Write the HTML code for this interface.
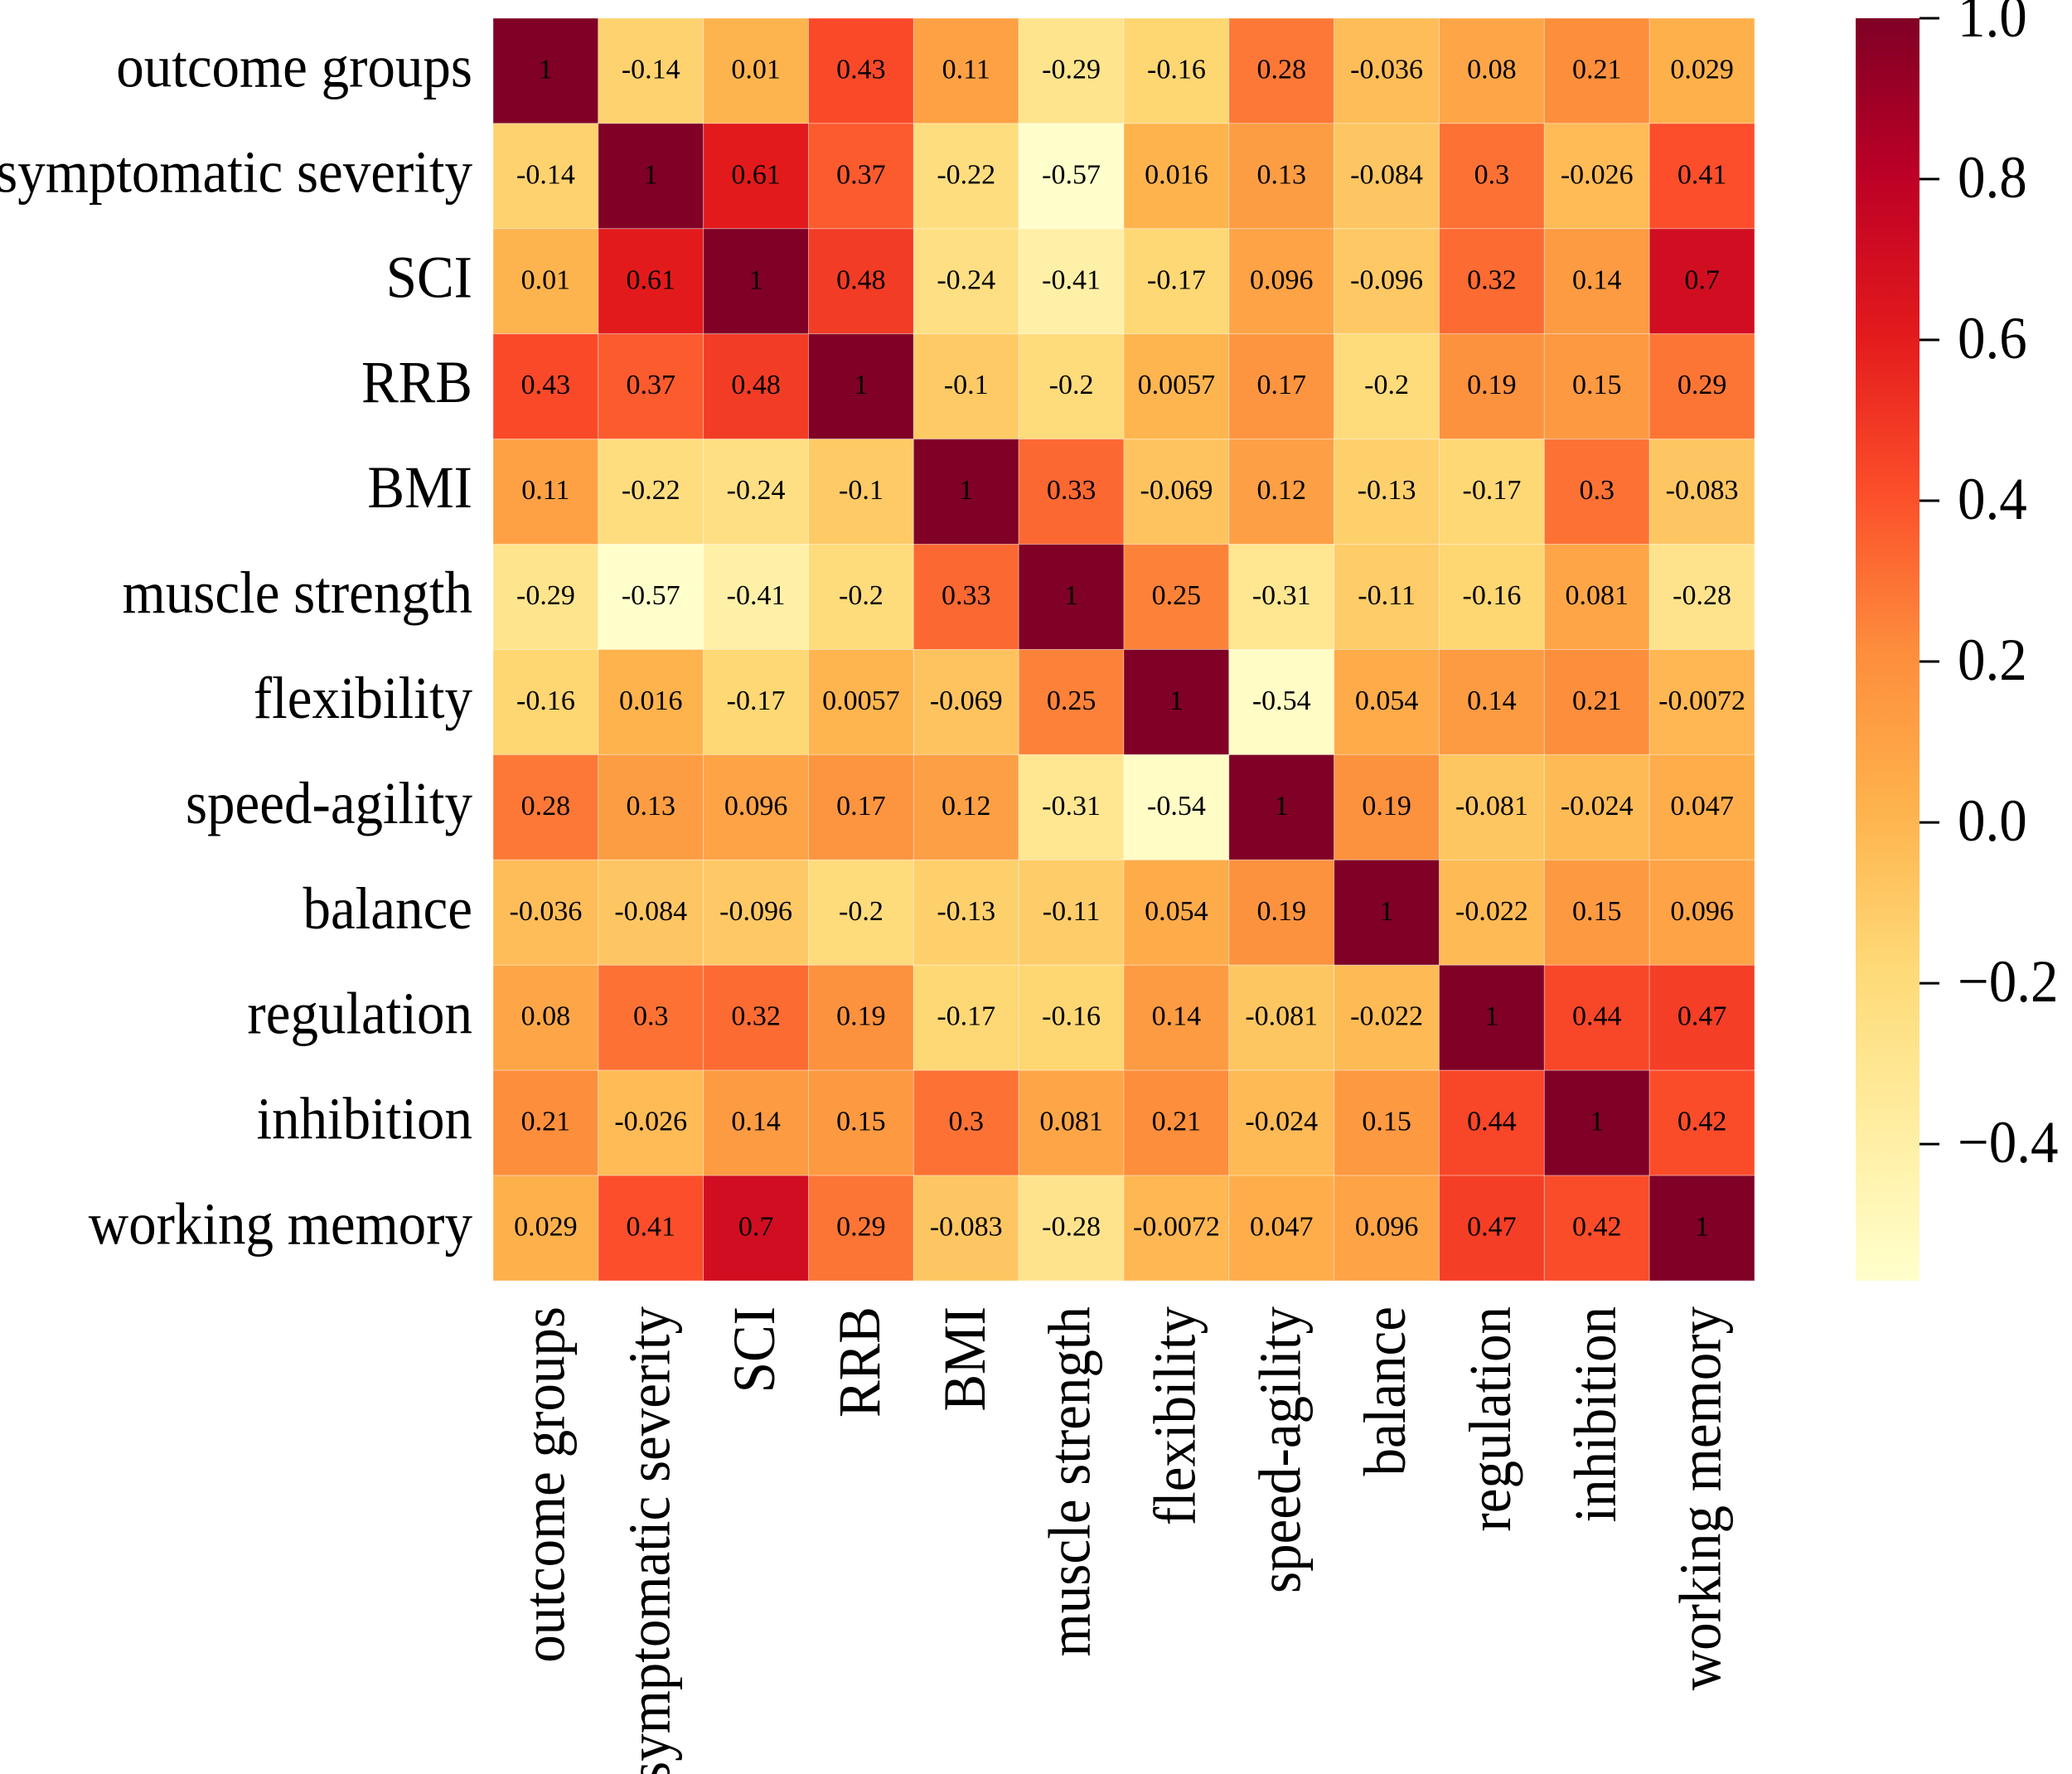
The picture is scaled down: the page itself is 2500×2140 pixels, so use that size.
<!DOCTYPE html>
<html><head><meta charset="utf-8"><style>
html,body{margin:0;padding:0;background:#fff;}
svg{display:block;font-family:"Liberation Serif",serif;}
</style></head><body>
<svg id="chart" width="2500" height="2140" viewBox="0 0 2500 2140" xmlns="http://www.w3.org/2000/svg">
<defs>
<linearGradient id="cbgrad" x1="0" y1="1" x2="0" y2="0">
<stop offset="0" stop-color="#ffffcc"/><stop offset="0.125" stop-color="#ffeda0"/><stop offset="0.25" stop-color="#fed976"/><stop offset="0.375" stop-color="#feb24c"/><stop offset="0.5" stop-color="#fd8d3c"/><stop offset="0.625" stop-color="#fc4e2a"/><stop offset="0.75" stop-color="#e31a1c"/><stop offset="0.875" stop-color="#bd0026"/><stop offset="1" stop-color="#800026"/>
</linearGradient>
</defs>
<g id="cells"></g>
<g id="ylabels"></g>
<g id="xlabels"></g>
<g id="cbar"></g>
</svg>
<script>
const labels = ["outcome groups","symptomatic severity","SCI","RRB","BMI","muscle strength","flexibility","speed-agility","balance","regulation","inhibition","working memory"];
const row0 = [1,-0.14,0.01,0.43,0.11,-0.29,-0.16,0.28,-0.036,0.08,0.21,0.029];
const row1 = [-0.14,1,0.61,0.37,-0.22,-0.57,0.016,0.13,-0.084,0.3,-0.026,0.41];
const row2 = [0.01,0.61,1,0.48,-0.24,-0.41,-0.17,0.096,-0.096,0.32,0.14,0.7];
const row3 = [0.43,0.37,0.48,1,-0.1,-0.2,0.0057,0.17,-0.2,0.19,0.15,0.29];
const row4 = [0.11,-0.22,-0.24,-0.1,1,0.33,-0.069,0.12,-0.13,-0.17,0.3,-0.083];
const row5 = [-0.29,-0.57,-0.41,-0.2,0.33,1,0.25,-0.31,-0.11,-0.16,0.081,-0.28];
const row6 = [-0.16,0.016,-0.17,0.0057,-0.069,0.25,1,-0.54,0.054,0.14,0.21,-0.0072];
const row7 = [0.28,0.13,0.096,0.17,0.12,-0.31,-0.54,1,0.19,-0.081,-0.024,0.047];
const row8 = [-0.036,-0.084,-0.096,-0.2,-0.13,-0.11,0.054,0.19,1,-0.022,0.15,0.096];
const row9 = [0.08,0.3,0.32,0.19,-0.17,-0.16,0.14,-0.081,-0.022,1,0.44,0.47];
const row10 = [0.21,-0.026,0.14,0.15,0.3,0.081,0.21,-0.024,0.15,0.44,1,0.42];
const row11 = [0.029,0.41,0.7,0.29,-0.083,-0.28,-0.0072,0.047,0.096,0.47,0.42,1];
const matrix = [row0,row1,row2,row3,row4,row5,row6,row7,row8,row9,row10,row11];
const cbTicks = [-0.4,-0.2,0.0,0.2,0.4,0.6,0.8,1.0];
const vmin = -0.57, vmax = 1.0;

const NS = "http://www.w3.org/2000/svg";
const L = 595, T = 22, R = 2117, B = 1545;
const cw = (R - L) / labels.length, ch = (B - T) / labels.length;
const xPos = i => L + i * cw;
const yPos = i => T + i * ch;
const stops = ["#ffffcc","#ffeda0","#fed976","#feb24c","#fd8d3c","#fc4e2a","#e31a1c","#bd0026","#800026"].map(h=>[parseInt(h.slice(1,3),16),parseInt(h.slice(3,5),16),parseInt(h.slice(5,7),16)]);
function color(v){
  let t = Math.max(0, Math.min(1, (v - vmin) / (vmax - vmin))) * (stops.length - 1);
  let i = Math.min(Math.floor(t), stops.length - 2), f = t - i;
  const c = stops[i].map((a,k)=>Math.round(a + (stops[i+1][k]-a)*f));
  return `rgb(${c[0]},${c[1]},${c[2]})`;
}
function mk(tag, attrs, parent){ const e=document.createElementNS(NS,tag); for(const k in attrs) e.setAttribute(k,attrs[k]); parent.appendChild(e); return e; }

const cells = document.getElementById('cells');
matrix.forEach((row, r) => row.forEach((v, c) => {
  const rect = mk('rect',{x:xPos(c),y:yPos(r),width:cw,height:ch,fill:color(v),stroke:'rgba(255,255,255,0.35)','stroke-width':1},cells);
  
  
  const t = mk('text',{x:xPos(c)+cw/2,y:yPos(r)+ch/2+9,'text-anchor':'middle','font-size':34,fill:'#000'},cells);
  t.textContent = String(v);
  
  
}));

const yl = document.getElementById('ylabels');
const xl = document.getElementById('xlabels');
labels.forEach((lab, i) => {
  const cy = yPos(i) + ch/2 + 19;
  const t = mk('text',{x:570,y:0,'text-anchor':'end','font-size':67,transform:`translate(0,${cy}) scale(1,1.08)`},yl);
  t.textContent = lab;
  
  
  const cx = xPos(i) + cw/2 + 22;
  const u = mk('text',{x:0,y:0,'text-anchor':'end','font-size':67,transform:`translate(${cx},1576) rotate(-90) scale(1,1.08)`},xl);
  u.textContent = lab;
  
  
});

const cb = document.getElementById('cbar');
const cbL = 2239, cbR = 2316;
const cbY = v => B - (v - vmin) / (vmax - vmin) * (B - T);
const cbr = mk('rect',{x:cbL,y:T,width:cbR-cbL,height:B-T,fill:'url(#cbgrad)'},cb);


cbTicks.forEach(v => {
  const y = cbY(v);
  const ln = mk('line',{x1:cbR,x2:cbR+24,y1:y,y2:y,stroke:'#000','stroke-width':3},cb);
  
  
  const t = mk('text',{x:0,y:0,'font-size':67,transform:`translate(2362,${y+22}) scale(1,1.08)`},cb);
  t.textContent = (v < 0 ? '\u2212' : '') + Math.abs(v).toFixed(1);
  
  
});
</script>
</body></html>
